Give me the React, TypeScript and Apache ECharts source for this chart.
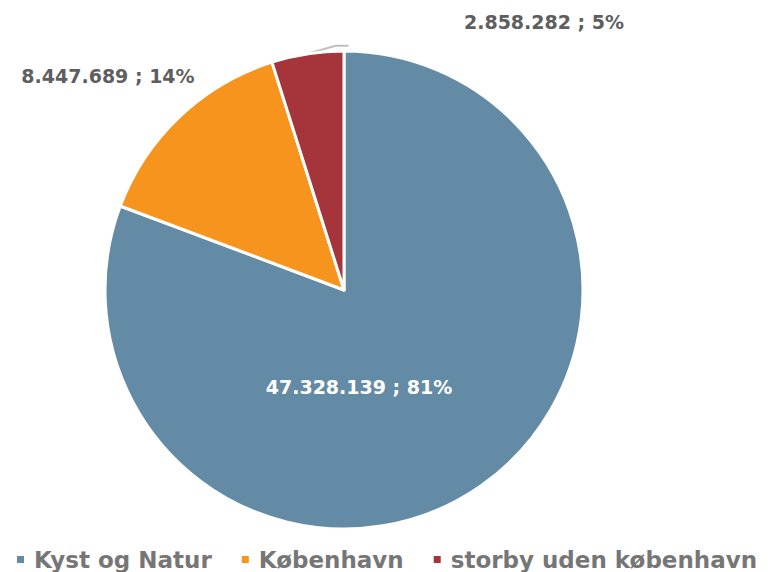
import React, { useEffect, useRef } from "react";
import * as echarts from "echarts";

const categories = ["Kyst og Natur", "København", "storby uden københavn"];
const values = [47328139, 8447689, 2858282];
const colors = ["#648BA5", "#F7941D", "#A6343B"];

// label target centres (layout only)
const labelTargets: Record<number, [number, number]> = {
  0: [359, 387],
  1: [108, 76],
  2: [544, 22],
};

const fmt = (v: number) => String(v).replace(/\B(?=(\d{3})+(?!\d))/g, ".");

export default function App() {
  const ref = useRef<HTMLDivElement>(null);
  useEffect(() => {
    if (!ref.current) return;
    const chart = echarts.init(ref.current, null, { renderer: "svg" });
    const labelFont = {
      fontFamily: "'DejaVu Sans', Verdana, sans-serif",
      fontWeight: "bold" as const,
      fontSize: 19,
    };
    chart.setOption({
      animation: false,
      backgroundColor: "#ffffff",
      color: colors,
      legend: {
        data: categories,
        left: 15,
        top: 548,
        padding: 0,
        itemWidth: 9,
        itemHeight: 9,
        itemGap: 28,
        icon: "rect",
        textStyle: {
          fontFamily: "'DejaVu Sans', Verdana, sans-serif",
          fontWeight: "bold",
          fontSize: 23,
          color: "#767676",
          padding: [0, 0, 0, 4],
        },
      },
      series: [
        {
          type: "pie",
          center: [344, 290],
          radius: 239,
          startAngle: 90,
          clockwise: true,
          itemStyle: { borderColor: "#ffffff", borderWidth: 3 },
          label: {
            show: true,
            position: "outside",
            overflow: "none",
            color: "#5e5e5e",
            ...labelFont,
            formatter: (p: any) => `${fmt(p.value)} ; ${Math.round(p.percent)}%`,
          },
          labelLine: {
            show: true,
            length: 10,
            length2: 10,
            lineStyle: { color: "#bfbfbf", width: 2 },
          },
          labelLayout: (p: any) => {
            const t = labelTargets[p.dataIndex];
            const r = p.labelRect;
            const res: any = {
              dx: t[0] - (r.x + r.width / 2),
              dy: t[1] - (r.y + r.height / 2),
            };
            if (p.dataIndex === 2 && p.labelLinePoints && p.labelLinePoints[0]) {
              const s = p.labelLinePoints[0];
              res.labelLinePoints = [
                [s[0], s[1]],
                [s[0] + 28, s[1] - 8],
                [s[0] + 41, s[1] - 8],
              ];
            }
            return res;
          },
          emphasis: { disabled: true },
          data: categories.map((name, i) => {
            const item: any = { name, value: values[i] };
            if (i === 0) {
              item.label = { position: "inside", color: "#ffffff" };
              item.labelLine = { show: false };
            }
            if (i === 1) {
              item.labelLine = { show: false };
            }
            return item;
          }),
        },
      ],
    });
    return () => chart.dispose();
  }, []);
  return (
    <div
      ref={ref}
      style={{ position: "absolute", left: 0, top: 0, width: 771, height: 572 }}
    />
  );
}
